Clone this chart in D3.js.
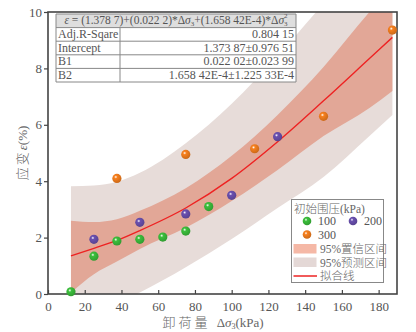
<!DOCTYPE html>
<html><head><meta charset="utf-8">
<script src="https://cdn.jsdelivr.net/npm/d3@7"></script>
<style>
html,body{margin:0;padding:0;background:#fff;}
svg{display:block;}
text{font-family:"Liberation Serif","Times New Roman","Noto Sans CJK SC",serif;}
.cjk{font-weight:300;}
</style></head><body>
<svg id="c" width="416" height="332"></svg>
<script>
// ---- data ----
const xTicks = [0,20,40,60,80,100,120,140,160,180];
const yTicks = [0,2,4,6,8,10];
const unload100 = [12.5,25,37.5,50,62.5,75,87.5];
const strain100 = [0.08,1.34,1.88,1.94,2.02,2.23,3.10];
const unload200 = [25,50,75,100,125];
const strain200 = [1.94,2.54,2.84,3.50,5.58];
const unload300 = [37.5,75,112.5,150,187.5];
const strain300 = [4.10,4.95,5.15,6.30,9.36];
const bandX      = [12.5,25,37.5,50,75,100,125,150,175,187.5];
const fitLine    = [1.35,1.62,1.90,2.25,3.05,4.10,5.40,6.85,8.35,9.10];
const confUpper  = [2.60,2.55,2.65,2.95,3.75,4.90,6.35,8.05,10.0,10.9];
const confLower  = [0.05,0.70,1.15,1.60,2.35,3.30,4.40,5.60,6.60,7.20];
const predUpper  = [3.82,3.85,3.98,4.30,5.35,6.75,8.45,10.3,12.2,13.2];
const predLower  = [-1.10,-0.75,-0.35,0.05,0.95,1.95,3.05,4.15,5.60,6.35];
const statNames  = ["Adj.R-Sqare","Intercept","B1","B2"];
const statValues = ["0.804 15","1.373 87±0.976 51","0.022 02±0.023 99","1.658 42E-4±1.225 33E-4"];
const groupNames = ["100","200","300"];
const groupColors = ["#3cbf3c","#6a50b0","#f7801e"];

// ---- layout ----
const L=48, R=397, T=12, B=294;
const svg = d3.select("#c");
const x = d3.scaleLinear().domain([0,190]).range([L,R]);
const y = d3.scaleLinear().domain([0,10]).range([B,T]);

const defs = svg.append("defs");
defs.append("clipPath").attr("id","clip").append("rect")
  .attr("x",L).attr("y",T).attr("width",R-L).attr("height",B-T);
groupColors.forEach((c,i)=>{
  const g = defs.append("radialGradient").attr("id","g"+i)
    .attr("cx","0.38").attr("cy","0.35").attr("r","0.7");
  g.append("stop").attr("offset","0").attr("stop-color","#fff");
  g.append("stop").attr("offset","0.25").attr("stop-color",c);
  g.append("stop").attr("offset","1").attr("stop-color",d3.color(c).darker(0.6));
});

const bands = svg.append("g").attr("clip-path","url(#clip)");
const idx = d3.range(bandX.length);
const area = (lo,hi)=>d3.area().x(i=>x(bandX[i])).y0(i=>y(lo[i])).y1(i=>y(hi[i])).curve(d3.curveMonotoneX);
bands.append("path").attr("d",area(predLower,predUpper)(idx)).attr("fill","#e7dcd9");
bands.append("path").attr("d",area(confLower,confUpper)(idx)).attr("fill","#e2a797");
bands.append("path").attr("d",d3.line().x(i=>x(bandX[i])).y(i=>y(fitLine[i])).curve(d3.curveMonotoneX)(idx))
  .attr("fill","none").attr("stroke","#ee2222").attr("stroke-width",1.4);

// axes
const axisColor="#444";
const xa = svg.append("g").attr("transform",`translate(0,${B})`)
  .call(d3.axisBottom(x).tickValues(xTicks).tickSizeInner(-4).tickSizeOuter(0).tickPadding(8));
const ya = svg.append("g").attr("transform",`translate(${L},0)`)
  .call(d3.axisLeft(y).tickValues(yTicks).tickSizeInner(4).tickSizeOuter(0).tickPadding(2));
[xa,ya].forEach(a=>{
  a.select(".domain").remove();
  a.selectAll("line").attr("stroke",axisColor).attr("stroke-width",1.2);
  a.selectAll("text").attr("fill","#555").attr("font-size",13)
    .style("font-family","'Liberation Serif',serif");
});
svg.append("rect").attr("x",L).attr("y",T).attr("width",R-L).attr("height",B-T)
  .attr("fill","none").attr("stroke","#444").attr("stroke-width",1.6);

// points
const groups=[[unload100,strain100],[unload200,strain200],[unload300,strain300]];
groups.forEach((g,i)=>{
  svg.append("g").selectAll("circle").data(g[0]).join("circle")
    .attr("cx",d=>x(d)).attr("cy",(d,j)=>y(g[1][j])).attr("r",4.6)
    .attr("fill",`url(#g${i})`);
});

// table
const tx0=56, tx1=120, tx2=296, rowH=13.6, ty0=14;
const tbl = svg.append("g");
tbl.append("rect").attr("x",tx0).attr("y",ty0).attr("width",tx2-tx0).attr("height",rowH)
  .attr("fill","#dedede");
tbl.append("rect").attr("x",tx0).attr("y",ty0+rowH).attr("width",tx2-tx0).attr("height",rowH*4)
  .attr("fill","#fff");
for(let r=0;r<=5;r++) tbl.append("line").attr("x1",tx0).attr("x2",tx2)
  .attr("y1",ty0+r*rowH).attr("y2",ty0+r*rowH).attr("stroke","#888").attr("stroke-width",1);
tbl.append("line").attr("x1",tx0).attr("x2",tx0).attr("y1",ty0).attr("y2",ty0+5*rowH).attr("stroke","#888");
tbl.append("line").attr("x1",tx2).attr("x2",tx2).attr("y1",ty0).attr("y2",ty0+5*rowH).attr("stroke","#888");
tbl.append("line").attr("x1",tx1).attr("x2",tx1).attr("y1",ty0+rowH).attr("y2",ty0+5*rowH).attr("stroke","#888");
const hdr = tbl.append("text").attr("x",(tx0+tx2)/2).attr("y",ty0+rowH-3.5)
  .attr("text-anchor","middle").attr("font-size",11.5).attr("fill","#555");
hdr.append("tspan").attr("font-style","italic").text("ε");
hdr.append("tspan").text(" = (1.378 7)+(0.022 2)*Δ");
hdr.append("tspan").attr("font-style","italic").text("σ");
hdr.append("tspan").attr("font-size",7).attr("dy",2).text("3");
hdr.append("tspan").attr("dy",-2).text("+(1.658 42E-4)*Δ");
hdr.append("tspan").attr("font-style","italic").text("σ");
hdr.append("tspan").attr("font-size",7).attr("dy",2).text("3");
hdr.append("tspan").attr("font-size",7).attr("dy",-8).attr("dx",-3.5).text("2");
statNames.forEach((n,i)=>{
  tbl.append("text").attr("x",tx0+2).attr("y",ty0+(i+2)*rowH-3).attr("font-size",12)
    .attr("fill","#555").text(n);
  tbl.append("text").attr("x",tx2-2).attr("y",ty0+(i+2)*rowH-3).attr("font-size",12)
    .attr("text-anchor","end").attr("fill","#555").text(statValues[i]);
});

// legend
const lg = svg.append("g");
lg.append("rect").attr("x",291.5).attr("y",199.5).attr("width",92).attr("height",83)
  .attr("fill","#fff").attr("stroke","#888").attr("stroke-width",1);
lg.append("text").attr("class","cjk").attr("x",294).attr("y",213).attr("font-size",11.5).attr("fill","#666")
  .text("初始围压(kPa)");
const lpos=[[307,221],[353,221],[307,234.5]];
groupNames.forEach((n,i)=>{
  lg.append("circle").attr("cx",lpos[i][0]).attr("cy",lpos[i][1]).attr("r",4.3).attr("fill",`url(#g${i})`);
  lg.append("text").attr("x",lpos[i][0]+11).attr("y",lpos[i][1]+4).attr("font-size",12)
    .attr("fill","#555").text(n);
});
lg.append("rect").attr("x",293.5).attr("y",244).attr("width",23).attr("height",9.5).attr("fill","#f5b8a6");
lg.append("text").attr("class","cjk").attr("x",320).attr("y",253).attr("font-size",11.5).attr("fill","#666").text("95%置信区间");
lg.append("rect").attr("x",293.5).attr("y",257.5).attr("width",23).attr("height",9.5).attr("fill","#e4d8d6");
lg.append("text").attr("class","cjk").attr("x",320).attr("y",266.5).attr("font-size",11.5).attr("fill","#666").text("95%预测区间");
lg.append("line").attr("x1",293.5).attr("x2",317).attr("y1",276).attr("y2",276)
  .attr("stroke","#ee3030").attr("stroke-width",1.6);
lg.append("text").attr("class","cjk").attr("x",320).attr("y",280).attr("font-size",11.5).attr("fill","#666").text("拟合线");

// axis titles
const xt = svg.append("text").attr("x",213).attr("y",327).attr("text-anchor","middle")
  .attr("font-size",13).attr("fill","#666");
xt.append("tspan").attr("class","cjk").attr("letter-spacing",3).text("卸荷量 ");
xt.append("tspan").text("Δ");
xt.append("tspan").attr("font-style","italic").text("σ");
xt.append("tspan").attr("font-size",8).attr("dy",2).text("3");
xt.append("tspan").attr("dy",-2).text("(kPa)");
const yt = svg.append("text").attr("transform","translate(27,153) rotate(-90)")
  .attr("text-anchor","middle").attr("font-size",13).attr("fill","#666");
yt.append("tspan").attr("class","cjk").attr("letter-spacing",2).text("应变");
yt.append("tspan").attr("font-style","italic").text("ε");
yt.append("tspan").text("(%)");
</script></body></html>
